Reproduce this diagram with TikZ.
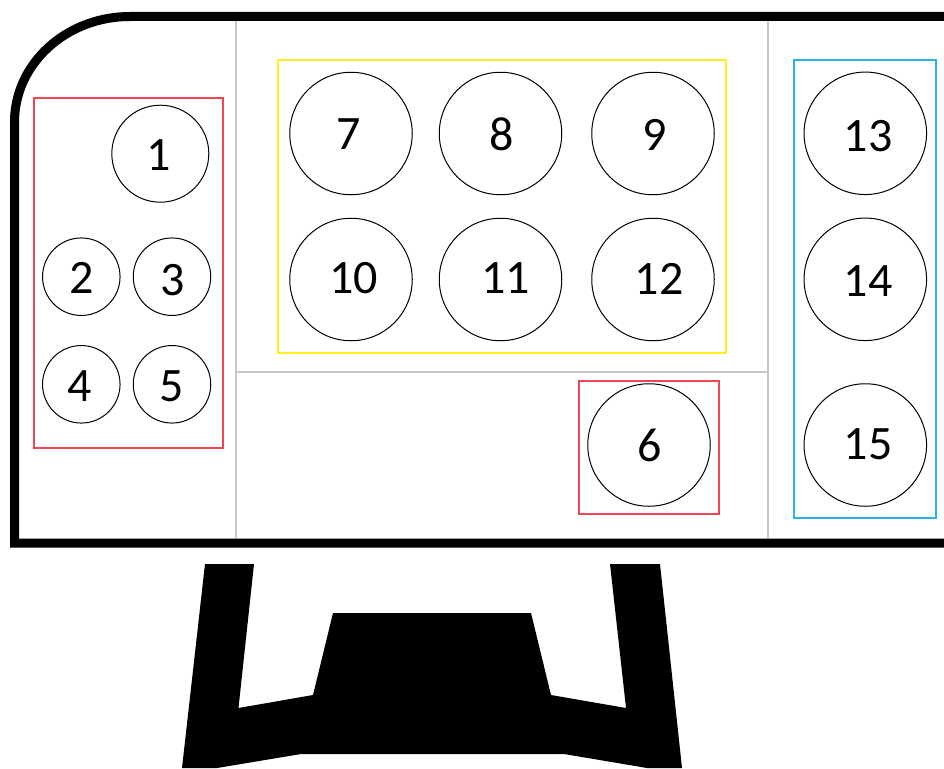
\documentclass[tikz,border=0pt]{standalone}
\usepackage{fontspec}
\setmainfont{Carlito}
\definecolor{rojocaja}{HTML}{F04552}
\definecolor{amarillocaja}{HTML}{FFEF21}
\definecolor{azulcaja}{HTML}{29B0EA}
\definecolor{grislinea}{HTML}{C8C8C8}
\tikzset{
  boton/.style={circle, draw=black, line width=1pt, inner sep=0pt},
  chico/.style={boton, minimum size=77.5pt},
  medio/.style={boton, minimum size=97pt},
  grande/.style={boton, minimum size=122.5pt},
  numero/.style={font=\fontsize{48}{48}\selectfont, inner sep=0pt, shift={(#1)}},
  caja/.style={line width=1.4pt},
  division/.style={draw=grislinea, line width=1.6pt},
  marco/.style={draw=black, line width=9pt},
}
\begin{document}
\begin{tikzpicture}[x=1pt,y=-1pt]
    \useasboundingbox (0,0) rectangle (944,768);
    \clip (0,0) rectangle (944,768);
    % Divisiones
    \draw[division] (236,20) -- (236,540);
    \draw[division] (768,20) -- (768,540);
    \draw[division] (236,372) -- (768,372);
    % Marco
    \draw[marco] (944,16.5) -- (130,16.5) arc[start angle=90, end angle=180, x radius=115.5, y radius=-105.5]
      -- (14.5,543) -- (944,543);
    % Grupos
    \draw[caja, draw=rojocaja] (34,98) rectangle (223,448);
    \draw[caja, draw=rojocaja] (579,381) rectangle (719,514);
    \draw[caja, draw=amarillocaja] (278,60) rectangle (726,353);
    \draw[caja, draw=azulcaja] (794,60) rectangle (936,518);
    % Botones izquierda
    \node[medio, label={[numero={-1.5,1.3}]center:1}] (b1) at (160.3,153.7) {};
    \node[chico, label={[numero={0.7,1.3}]center:2}] (b2) at (81.3,276.7) {};
    \node[chico, label={[numero={0.8,3.3}]center:3}] (b3) at (172,276.7) {};
    \node[chico, label={[numero={-1.3,1.7}]center:4}] (b4) at (81.3,384.3) {};
    \node[chico, label={[numero={-0.4,1.7}]center:5}] (b5) at (172,384.3) {};
    % Botones centro
    \node[grande, label={[numero={0.5,0.5}]center:6}] (b6) at (649,445) {};
    \node[grande, label={[numero={-2,1}]center:7}] (b7) at (351,133.5) {};
    \node[grande, label={[numero={1.5,1}]center:8}] (b8) at (500.5,133.5) {};
    \node[grande, label={[numero={1.5,1}]center:9}] (b9) at (653,133.5) {};
    \node[grande, label={[numero={2.5,-1}]center:10}] (b10) at (351,279.5) {};
    \node[grande, label={[numero={5,-1}]center:11}] (b11) at (500.5,279.5) {};
    \node[grande, label={[numero={6,-1}]center:12}] (b12) at (653,279.5) {};
    % Botones derecha
    \node[grande, label={[numero={2.7,3}]center:13}] (b13) at (865.3,133.3) {};
    \node[grande, label={[numero={2.7,1.7}]center:14}] (b14) at (865.3,279.3) {};
    \node[grande, label={[numero={2.7,-0.3}]center:15}] (b15) at (865.3,445) {};
    % Soporte
    \fill[black] (205,564) -- (254,564) -- (238.5,708) -- (313,695) -- (333,613) -- (531,613)
      -- (551,695) -- (626,708) -- (610,564) -- (660,564) -- (682,768) -- (647,768) -- (564,754)
      -- (301,754) -- (217,768) -- (182,768) -- cycle;
  \end{tikzpicture}
\end{document}
